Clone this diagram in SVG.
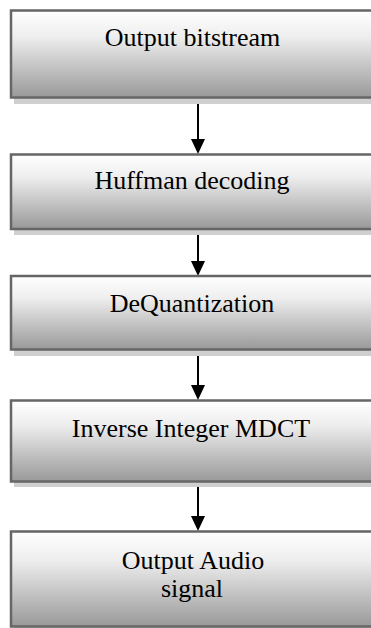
<svg xmlns="http://www.w3.org/2000/svg" width="371" height="628" viewBox="0 0 371 628">
  <defs>
    <linearGradient id="g" x1="0" y1="0" x2="0" y2="1">
      <stop offset="0" stop-color="#ffffff"/>
      <stop offset="0.3" stop-color="#eeeeee"/>
      <stop offset="1" stop-color="#999999"/>
    </linearGradient>
  </defs>
  <style>
    .shadow { fill: #cfcfcf; }
    .box { fill: url(#g); stroke: #666666; stroke-width: 2.5; }
    .lbl { font-family: "Liberation Serif", "Times New Roman", serif; font-size: 26px; fill: #000; text-anchor: middle; }
    .conn { stroke: #000; stroke-width: 2; fill: none; }
    .head { fill: #000; }
  </style>
  <rect width="371" height="628" fill="#ffffff"/>
  <g id="connectors">
    <line class="conn" x1="198" y1="99" x2="198" y2="140"/>
    <path class="head" d="M191,139 L205,139 L198,154 Z"/>
    <line class="conn" x1="198" y1="231" x2="198" y2="262"/>
    <path class="head" d="M191,261 L205,261 L198,276 Z"/>
    <line class="conn" x1="198" y1="352" x2="198" y2="386"/>
    <path class="head" d="M191,385 L205,385 L198,400 Z"/>
    <line class="conn" x1="198" y1="483" x2="198" y2="517"/>
    <path class="head" d="M191,516 L205,516 L198,531 Z"/>
  </g>
  <g id="n1">
    <rect class="shadow" x="14" y="16" width="380" height="88"/>
    <rect class="box" x="11" y="10.5" width="380" height="87"/>
    <text class="lbl" x="192.5" y="46">Output bitstream</text>
  </g>
  <g id="n2">
    <rect class="shadow" x="14" y="160" width="380" height="75"/>
    <rect class="box" x="11" y="154.5" width="380" height="74.5"/>
    <text class="lbl" x="192" y="189">Huffman decoding</text>
  </g>
  <g id="n3">
    <rect class="shadow" x="14" y="282" width="380" height="74"/>
    <rect class="box" x="11" y="276" width="380" height="73.5"/>
    <text class="lbl" x="192" y="312">DeQuantization</text>
  </g>
  <g id="n4">
    <rect class="shadow" x="14" y="406" width="380" height="81"/>
    <rect class="box" x="11" y="400.5" width="380" height="81"/>
    <text class="lbl" x="191" y="437">Inverse Integer MDCT</text>
  </g>
  <g id="n5">
    <rect class="shadow" x="14" y="537" width="380" height="95"/>
    <rect class="box" x="11" y="531.5" width="380" height="95"/>
    <text class="lbl" x="193" y="569">Output Audio</text>
    <text class="lbl" x="192" y="597">signal</text>
  </g>
</svg>
